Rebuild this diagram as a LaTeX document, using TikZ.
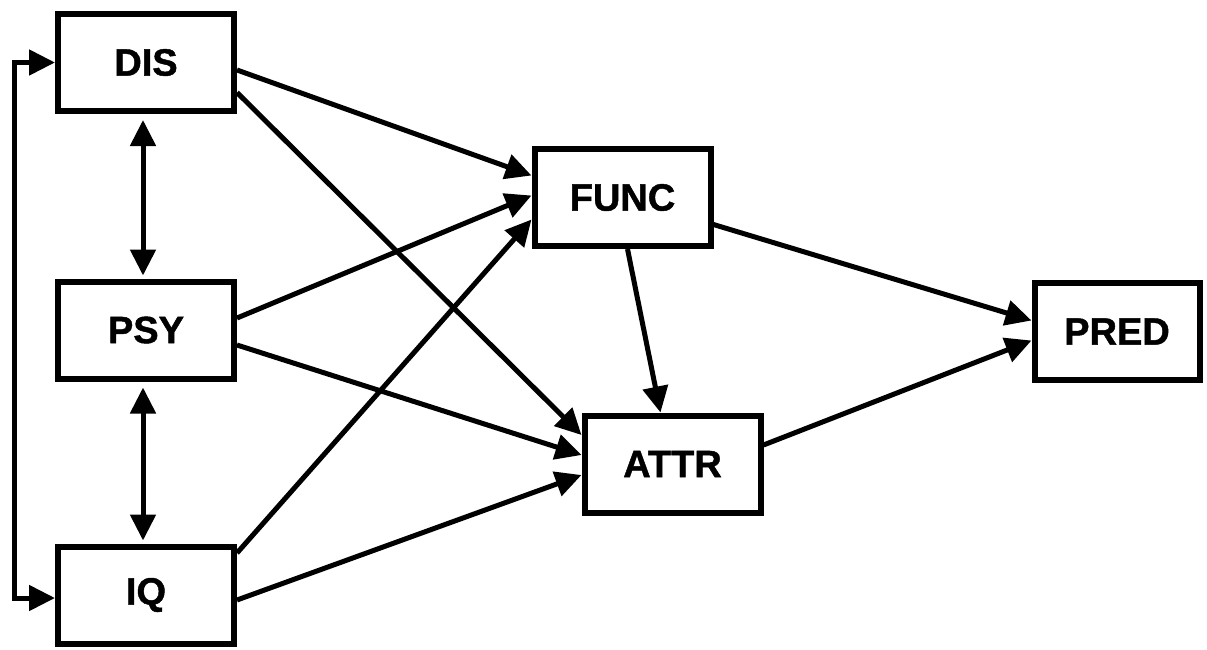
\documentclass[tikz,border=0pt]{standalone}
\usepackage{fontspec}
\setmainfont{Liberation Sans}
\newfontfamily\heavyfont[FakeBold=1.2]{Liberation Sans Bold}
\usetikzlibrary{arrows.meta}
\tikzset{
  box/.style={draw=black, line width=6pt, fill=white, minimum width=176pt, minimum height=97pt,
    inner sep=0pt, font=\fontsize{38}{40}\selectfont\heavyfont},
  arr/.style={line width=5pt, -{Triangle[length=26pt,width=25pt]}},
  darr/.style={line width=5pt, {Triangle[length=26pt,width=25pt]}-{Triangle[length=26pt,width=25pt]}}
}
\begin{document}
\begin{tikzpicture}[x=1pt,y=-1pt]
\useasboundingbox (0,0) rectangle (1207,649);
\node[box] (DIS) at (146,62.5) {DIS};
\node[box] (PSY) at (146,330) {PSY};
\node[box] (IQ) at (146,595) {IQ};
\node[box] (FUNC) at (622.5,197.5) {FUNC};
\node[box] (ATTR) at (672.5,464) {ATTR};
\node[box, minimum width=165pt] (PRED) at (1117,331.5) {PRED};
% left bracket
\draw[darr] (DIS.west) -- ++(-41,0) |- ([yshift=-3pt]IQ.west);
% vertical double arrows
\draw[darr] ([xshift=-3pt,yshift=-6pt]DIS.south) -- ([xshift=-3pt,yshift=3pt]PSY.north);
\draw[darr] ([xshift=-3pt,yshift=-6pt]PSY.south) -- ([xshift=-3pt,yshift=3pt]IQ.north);
% to FUNC
\draw[arr] ([yshift=-7.5pt]DIS.east) -- ([yshift=22pt]FUNC.west);
\draw[arr] ([yshift=12pt]PSY.east) -- ([yshift=2pt]FUNC.west);
\draw[arr] ([yshift=42pt]IQ.east) -- ([yshift=-22pt]FUNC.west);
% to ATTR
\draw[arr] ([yshift=-30pt]DIS.east) -- ([yshift=29pt]ATTR.west);
\draw[arr] ([yshift=-15pt]PSY.east) -- ([yshift=9pt]ATTR.west);
\draw[arr] ([yshift=-5pt]IQ.east) -- ([yshift=-11pt]ATTR.west);
\draw[arr] ([xshift=5pt]FUNC.south) -- ([xshift=-12pt]ATTR.north);
% to PRED
\draw[arr] ([yshift=-27pt]FUNC.east) -- ([yshift=11pt]PRED.west);
\draw[arr] ([yshift=19pt]ATTR.east) -- ([yshift=-9pt]PRED.west);
\end{tikzpicture}
\end{document}
